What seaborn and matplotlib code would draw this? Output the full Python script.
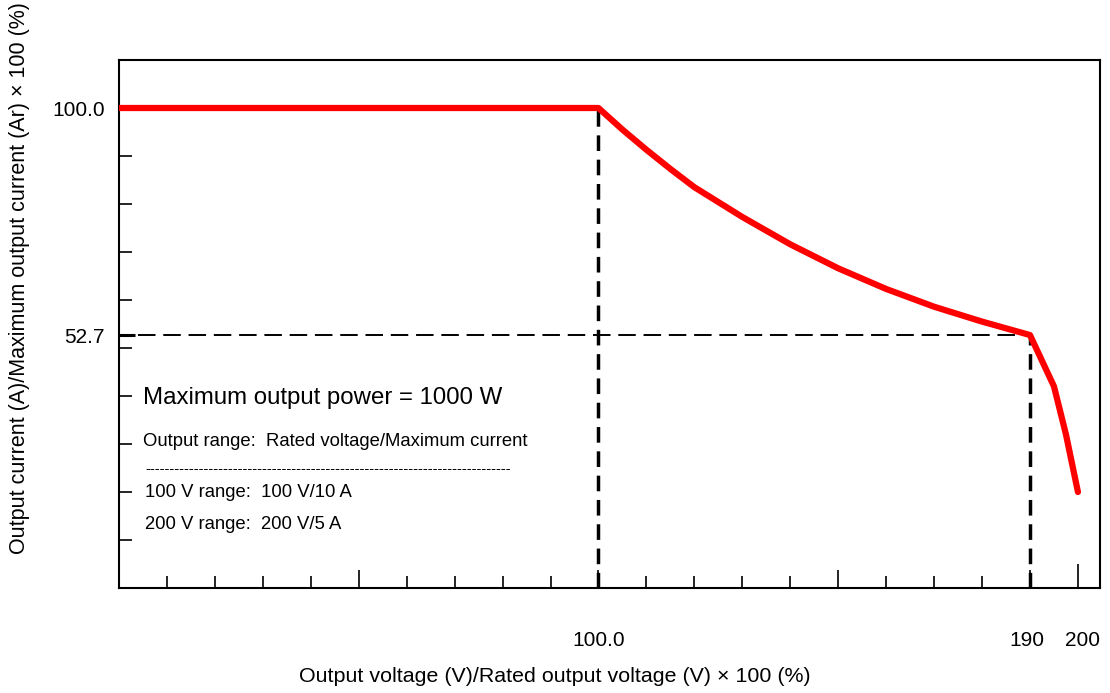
import numpy as np
import pandas as pd
import matplotlib
matplotlib.use('Agg')
import matplotlib.pyplot as plt
import matplotlib.transforms as mtransforms
import seaborn as sns

# data
voltage = [0, 100, 105, 110, 115, 120, 130, 140, 150, 160, 170, 180, 190, 195, 197.5, 200]
current = [100, 100, 95.5, 91.3, 87.3, 83.5, 77.3, 71.6, 66.6, 62.3, 58.6, 55.5, 52.7, 42, 32, 20]

x_labels = {100: '100.0', 190: '190', 200: '200'}
y_labels = {52.7: '52.7', 100: '100.0'}

df = pd.DataFrame({'voltage': voltage, 'current': current})

sns.set_theme(style='white')
plt.rcParams['font.family'] = ['Liberation Sans', 'DejaVu Sans']

fig = plt.figure(figsize=(11.1, 6.93), dpi=100)
ax = fig.add_axes([119/1110, 1-588/693, (1100-119)/1110, (588-60)/693])

# dashed guide lines
ax.plot([100, 100], [0, 100], color='black', lw=2.5, ls=(0, (4.5, 2.5)), zorder=2)
ax.plot([190, 190], [0, 52.7], color='black', lw=2.5, ls=(0, (4.5, 2.5)), zorder=2)
ax.plot([4, 190], [52.7, 52.7], color='black', lw=1.4, ls=(0, (9, 4)), zorder=2)

sns.lineplot(data=df, x='voltage', y='current', ax=ax, color='#ff0000', lw=4.5,
             sort=False, zorder=3)

ax.set_xlim(0, 204.6)
ax.set_ylim(0, 110)

# ticks (lengths in points, ~0.72 of the pixel lengths)
ax.set_xticks([50, 100, 150, 190, 200])
ax.set_xticklabels(['', x_labels[100], '', x_labels[190], x_labels[200]])
ax.set_xticks(np.arange(10, 200, 10), minor=True)
ax.set_yticks([52.7, 100])
ax.set_yticklabels([y_labels[52.7], y_labels[100]])
ax.set_yticks(np.arange(10, 100, 10), minor=True)
ax.tick_params(which='both', bottom=True, left=True, top=False, right=False,
               color='black', labelcolor='black')
ax.tick_params(axis='x', which='major', direction='in', length=13, width=1.2,
               pad=31, labelsize=15)
ax.tick_params(axis='x', which='minor', direction='in', length=9, width=1.2)
ax.tick_params(axis='y', which='major', direction='in', length=11.5, width=2.2,
               pad=10, labelsize=15)
ax.tick_params(axis='y', which='minor', direction='in', length=9.3, width=1.2)

# nudge the crowded 190 / 200 labels apart like the reference
ticks = ax.xaxis.get_major_ticks()
for t, dx in zip(ticks[3:], [-3, 5]):
    off = mtransforms.ScaledTranslation(dx / 100, 0, fig.dpi_scale_trans)
    t.label1.set_transform(t.label1.get_transform() + off)
ticks[4].tick1line.set_markersize(17)

for s in ax.spines.values():
    s.set_color('black')
    s.set_linewidth(1.5)

ax.set_xlabel('')
ax.set_ylabel('')

# annotation text
ax.text(5, 39.5, 'Maximum output power = 1000 W', fontsize=17.3, va='center', color='black')
ax.text(5, 30.5, 'Output range:  Rated voltage/Maximum current', fontsize=13.3, va='center', color='black')
ax.text(5.5, 24.7, '-' * 75, fontsize=10.5, va='center', color='black')
ax.text(5.5, 19.8, '100 V range:  100 V/10 A', fontsize=13.3, va='center', color='black')
ax.text(5.5, 13.3, '200 V range:  200 V/5 A', fontsize=13.3, va='center', color='black')

fig.text(555/1110, 1-676/693, 'Output voltage (V)/Rated output voltage (V) × 100 (%)',
         ha='center', va='center', fontsize=15.4, color='black')
fig.text(20/1110, 1-278/693, 'Output current (A)/Maximum output current (Ar) \u00d7 100 (%)',
         ha='center', va='center', rotation=90, fontsize=15.5, color='black')

fig.savefig('out.png', dpi=100)
